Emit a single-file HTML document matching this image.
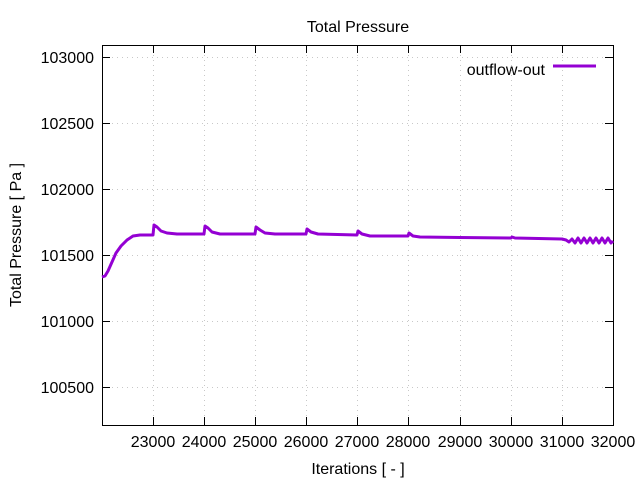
<!DOCTYPE html>
<html><head><style>body{margin:0;background:#fff}</style></head><body>
<svg width="640" height="480" xmlns="http://www.w3.org/2000/svg" font-family="Liberation Sans, sans-serif" font-size="16">
<rect width="640" height="480" fill="#fff"/>
<g stroke="#c8c8c8" stroke-dasharray="1,4" stroke-width="1">
<line x1="153.5" y1="45" x2="153.5" y2="425"/><line x1="204.5" y1="45" x2="204.5" y2="425"/>
<line x1="255.5" y1="45" x2="255.5" y2="425"/><line x1="306.5" y1="45" x2="306.5" y2="425"/>
<line x1="357.5" y1="45" x2="357.5" y2="425"/><line x1="408.5" y1="45" x2="408.5" y2="425"/>
<line x1="460.5" y1="45" x2="460.5" y2="425"/><line x1="511.5" y1="45" x2="511.5" y2="425"/>
<line x1="562.5" y1="45" x2="562.5" y2="425"/>
<line x1="102" y1="57.5" x2="613" y2="57.5"/><line x1="102" y1="123.5" x2="613" y2="123.5"/>
<line x1="102" y1="189.5" x2="613" y2="189.5"/><line x1="102" y1="255.5" x2="613" y2="255.5"/>
<line x1="102" y1="321.5" x2="613" y2="321.5"/><line x1="102" y1="387.5" x2="613" y2="387.5"/>
</g>
<rect x="102.5" y="45.5" width="511" height="380" fill="none" stroke="#000"/>
<g stroke="#000">
<line x1="102" y1="57.5" x2="110" y2="57.5"/><line x1="102" y1="123.5" x2="110" y2="123.5"/>
<line x1="102" y1="189.5" x2="110" y2="189.5"/><line x1="102" y1="255.5" x2="110" y2="255.5"/>
<line x1="102" y1="321.5" x2="110" y2="321.5"/><line x1="102" y1="387.5" x2="110" y2="387.5"/>
<line x1="613" y1="57.5" x2="605" y2="57.5"/><line x1="613" y1="123.5" x2="605" y2="123.5"/>
<line x1="613" y1="189.5" x2="605" y2="189.5"/><line x1="613" y1="255.5" x2="605" y2="255.5"/>
<line x1="613" y1="321.5" x2="605" y2="321.5"/><line x1="613" y1="387.5" x2="605" y2="387.5"/>
<line x1="153.5" y1="425" x2="153.5" y2="417"/><line x1="204.5" y1="425" x2="204.5" y2="417"/>
<line x1="255.5" y1="425" x2="255.5" y2="417"/><line x1="306.5" y1="425" x2="306.5" y2="417"/>
<line x1="357.5" y1="425" x2="357.5" y2="417"/><line x1="408.5" y1="425" x2="408.5" y2="417"/>
<line x1="460.5" y1="425" x2="460.5" y2="417"/><line x1="511.5" y1="425" x2="511.5" y2="417"/>
<line x1="562.5" y1="425" x2="562.5" y2="417"/>
<line x1="153.5" y1="45" x2="153.5" y2="53"/><line x1="204.5" y1="45" x2="204.5" y2="53"/>
<line x1="255.5" y1="45" x2="255.5" y2="53"/><line x1="306.5" y1="45" x2="306.5" y2="53"/>
<line x1="357.5" y1="45" x2="357.5" y2="53"/><line x1="408.5" y1="45" x2="408.5" y2="53"/>
<line x1="460.5" y1="45" x2="460.5" y2="53"/><line x1="511.5" y1="45" x2="511.5" y2="53"/>
<line x1="562.5" y1="45" x2="562.5" y2="53"/>
</g>
<g text-anchor="end">
<text x="94" y="63">103000</text><text x="94" y="129">102500</text><text x="94" y="195">102000</text>
<text x="94" y="261">101500</text><text x="94" y="327">101000</text><text x="94" y="393">100500</text>
</g>
<g text-anchor="middle">
<text x="153" y="447">23000</text><text x="204" y="447">24000</text><text x="255" y="447">25000</text>
<text x="306" y="447">26000</text><text x="357" y="447">27000</text><text x="408" y="447">28000</text>
<text x="460" y="447">29000</text><text x="511" y="447">30000</text><text x="562" y="447">31000</text>
<text x="613" y="447">32000</text>
<text x="358" y="474">Iterations [ - ]</text>
<text x="358" y="32">Total Pressure</text>
<text transform="translate(21,235) rotate(-90)">Total Pressure [ Pa ]</text>
</g>
<text x="545" y="75" text-anchor="end">outflow-out</text>
<line x1="553" y1="66" x2="596" y2="66" stroke="#9400d3" stroke-width="3"/>
<path fill="none" stroke="#9400d3" stroke-width="3" stroke-linejoin="round" d="M102,277 L105,276 L108,271 L112,262 L116,253 L121,246 L127,240 L133,236 L140,235 L153,235 L154,225 L157,227 L161,231 L167,233 L177,234 L204,234 L205,226 L208,228 L212,232 L220,234 L255,234 L256,227 L260,230 L265,233 L275,234 L306,234 L307,229 L311,232 L318,234 L357,235 L358,231 L362,234 L370,236 L408,236 L409,233 L413,236 L420,237 L460,237.5 L511,238 L512,237 L515,238 L562,239 L566,240 L569,242 L572,239 L575,243 L578,238 L581,243 L584,238 L587,243 L590,238 L593,243 L596,238 L599,243 L602,238 L605,243 L608,238 L611,243 L613,241"/>
</svg>
</body></html>
